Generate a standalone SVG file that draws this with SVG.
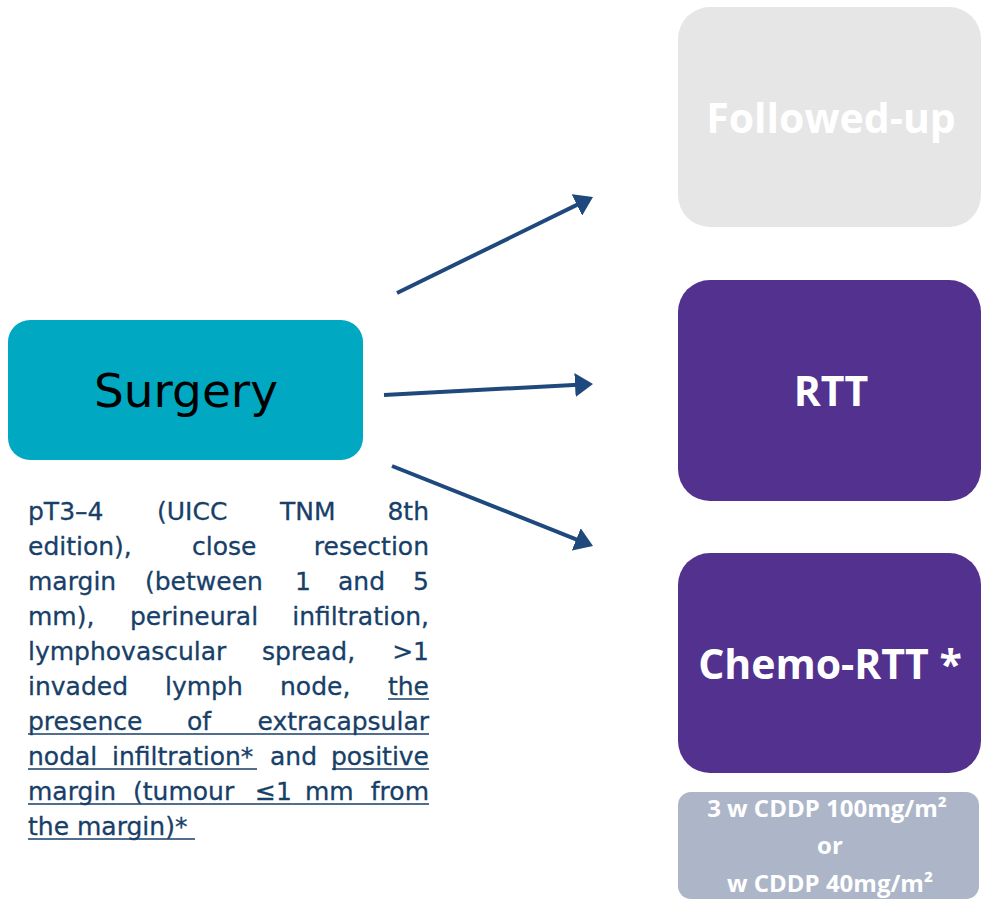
<svg xmlns="http://www.w3.org/2000/svg" width="981" height="900" viewBox="0 0 981 900">
  <style>
    .box-label { font-family: "Open Sans", "Noto Sans", "Liberation Sans", sans-serif; font-weight: bold; fill: #ffffff; text-anchor: middle; }
    .para { font-family: "DejaVu Sans", Verdana, sans-serif; font-size: 25px; fill: #183f68; stroke: #183f68; stroke-width: 0.3; }
    .para-end { text-anchor: end; }
    .uline { stroke: #183f68; stroke-width: 1.6; fill: none; }
    .conn { stroke: #1f497d; stroke-width: 4; fill: none; marker-end: url(#arrow); }
  </style>
  <defs>
    <marker id="arrow" markerUnits="userSpaceOnUse" markerWidth="20" markerHeight="24" refX="8" refY="12" orient="auto">
      <path d="M0,0 L18,12 L0,24 z" fill="#1f497d"/>
    </marker>
  </defs>
  <rect width="981" height="900" fill="#ffffff"/>

  <!-- Surgery node -->
  <g id="surgery">
    <rect x="8" y="320" width="355" height="140" rx="22" fill="#00a8c2"/>
    <text x="186" y="407" font-family="DejaVu Sans, Verdana, sans-serif" font-size="47" fill="#000000" text-anchor="middle">Surgery</text>
  </g>

  <!-- Criteria paragraph under the surgery node -->
  <g id="criteria">
    <text class="para" y="520"><tspan x="28">pT3–4</tspan><tspan x="157">(UICC</tspan><tspan x="280">TNM</tspan></text>
    <text class="para para-end" x="429" y="520">8th</text>
    <text class="para" y="555"><tspan x="28">edition),</tspan><tspan x="192">close</tspan></text>
    <text class="para para-end" x="429" y="555">resection</text>
    <text class="para" y="590"><tspan x="28">margin</tspan><tspan x="145">(between</tspan><tspan x="295">1</tspan><tspan x="338">and</tspan></text>
    <text class="para para-end" x="429" y="590">5</text>
    <text class="para" y="625"><tspan x="28">mm),</tspan><tspan x="130">perineural</tspan></text>
    <text class="para para-end" x="429" y="625">infiltration,</text>
    <text class="para" y="660"><tspan x="28">lymphovascular</tspan><tspan x="262">spread,</tspan></text>
    <text class="para para-end" x="429" y="660">&gt;1</text>
    <text class="para" y="695"><tspan x="28">invaded</tspan><tspan x="165">lymph</tspan><tspan x="280">node,</tspan></text>
    <text class="para para-end" x="429" y="695">the</text>
    <text class="para" y="730"><tspan x="28">presence</tspan><tspan x="187">of</tspan></text>
    <text class="para para-end" x="429" y="730">extracapsular</text>
    <text class="para" y="765"><tspan x="28">nodal</tspan><tspan x="112">infiltration*</tspan><tspan x="270">and</tspan></text>
    <text class="para para-end" x="429" y="765">positive</text>
    <text class="para" y="800"><tspan x="28">margin</tspan><tspan x="133">(tumour</tspan><tspan x="255">≤1</tspan><tspan x="305">mm</tspan></text>
    <text class="para para-end" x="429" y="800">from</text>
    <text class="para" x="28" y="835">the margin)*</text>
    <path class="uline" d="M388,699 H429 M28,734 H429 M28,769 H257 M332,769 H429 M28,804 H429 M28,839 H195"/>
  </g>

  <!-- Outcome nodes -->
  <g id="followed-up">
    <rect x="678" y="7" width="303" height="220" rx="32" fill="#e6e6e6"/>
    <text class="box-label" x="831" y="133" font-size="41">Followed-up</text>
  </g>
  <g id="rtt">
    <rect x="678" y="280" width="303" height="221" rx="32" fill="#52318f"/>
    <text class="box-label" x="831" y="406" font-size="41">RTT</text>
  </g>
  <g id="chemo-rtt">
    <rect x="678" y="553" width="303" height="220" rx="32" fill="#52318f"/>
    <text class="box-label" x="830" y="679" font-size="41">Chemo-RTT *</text>
  </g>
  <g id="regimen">
    <rect x="678" y="792" width="301" height="107" rx="13" fill="#adb6c9"/>
    <text class="box-label" x="827" y="817" font-size="24">3 w CDDP 100mg/m²</text>
    <text class="box-label" x="830" y="854" font-size="24">or</text>
    <text class="box-label" x="830" y="892" font-size="24">w CDDP 40mg/m²</text>
  </g>

  <!-- Connectors -->
  <g id="connectors">
    <path class="conn" d="M397,293 L584,201.4"/>
    <path class="conn" d="M384,395 L583,384.5"/>
    <path class="conn" d="M392,466 L583.7,542.3"/>
  </g>
</svg>
